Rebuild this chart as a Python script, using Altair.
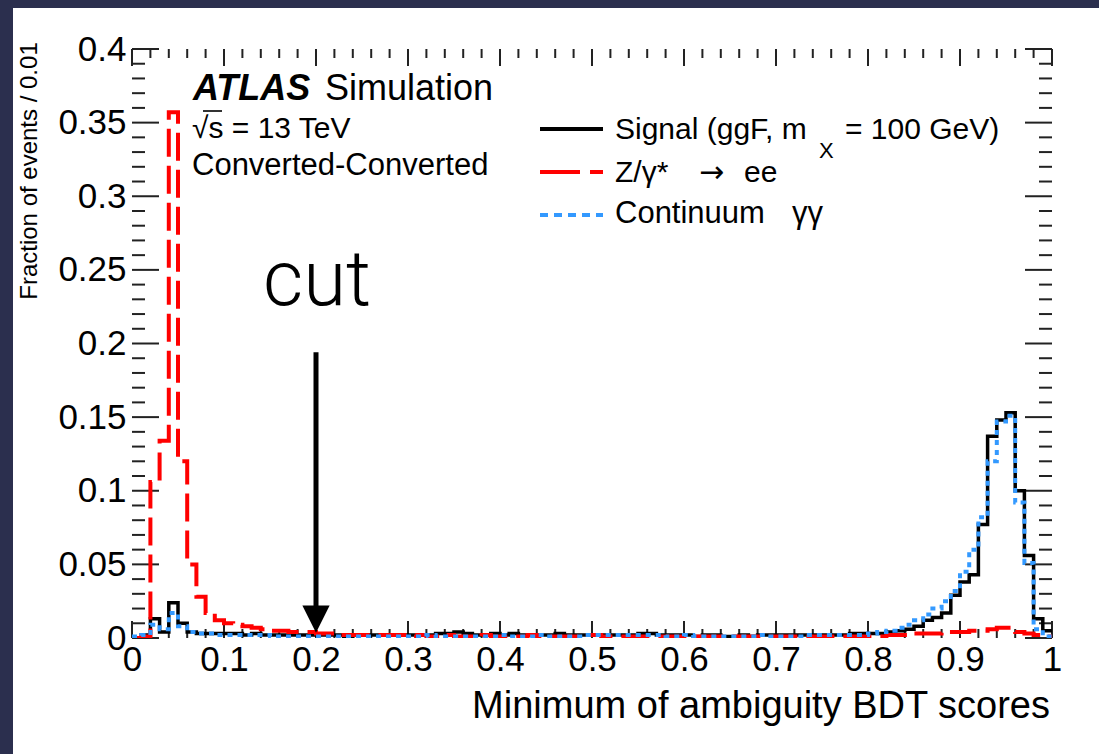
import altair as alt
import pandas as pd

# ---------------- data ----------------
bin_edges = [round(i * 0.01, 2) for i in range(101)]

signal = [
    0.000, 0.002, 0.013, 0.004, 0.024, 0.010, 0.004, 0.003, 0.003, 0.003,
    0.003, 0.003, 0.002, 0.003, 0.002, 0.002, 0.002, 0.002, 0.002, 0.002,
    0.002, 0.002, 0.002, 0.001, 0.002, 0.002, 0.002, 0.002, 0.002, 0.002,
    0.002, 0.002, 0.002, 0.003, 0.003, 0.004, 0.003, 0.002, 0.002, 0.003,
    0.002, 0.003, 0.002, 0.002, 0.002, 0.002, 0.003, 0.002, 0.002, 0.002,
    0.002, 0.002, 0.002, 0.002, 0.002, 0.003, 0.003, 0.002, 0.002, 0.002,
    0.002, 0.001, 0.002, 0.002, 0.001, 0.001, 0.002, 0.001, 0.002, 0.002,
    0.002, 0.002, 0.002, 0.002, 0.002, 0.002, 0.002, 0.002, 0.003, 0.003,
    0.003, 0.003, 0.004, 0.005, 0.006, 0.008, 0.012, 0.014, 0.017, 0.029,
    0.038, 0.043, 0.077, 0.137, 0.148, 0.153, 0.100, 0.056, 0.013, 0.005,
]

zee = [
    0.000, 0.001, 0.106, 0.134, 0.357, 0.120, 0.050, 0.028, 0.017, 0.012,
    0.010, 0.009, 0.008, 0.007, 0.006, 0.005, 0.005, 0.004, 0.004, 0.004,
    0.003, 0.003, 0.002, 0.002, 0.002, 0.002, 0.002, 0.002, 0.002, 0.002,
    0.001, 0.002, 0.001, 0.001, 0.002, 0.001, 0.001, 0.001, 0.002, 0.001,
    0.001, 0.001, 0.001, 0.002, 0.001, 0.001, 0.001, 0.001, 0.001, 0.002,
    0.002, 0.001, 0.001, 0.001, 0.001, 0.001, 0.001, 0.001, 0.001, 0.001,
    0.001, 0.001, 0.001, 0.001, 0.001, 0.001, 0.001, 0.001, 0.001, 0.001,
    0.001, 0.001, 0.001, 0.001, 0.001, 0.001, 0.001, 0.001, 0.001, 0.001,
    0.001, 0.001, 0.002, 0.002, 0.002, 0.003, 0.003, 0.003, 0.004, 0.004,
    0.004, 0.005, 0.005, 0.006, 0.007, 0.007, 0.004, 0.003, 0.002, 0.001,
]

continuum = [
    0.001, 0.002, 0.009, 0.006, 0.017, 0.008, 0.004, 0.003, 0.003, 0.002,
    0.002, 0.002, 0.002, 0.002, 0.002, 0.001, 0.001, 0.001, 0.001, 0.001,
    0.001, 0.001, 0.001, 0.001, 0.001, 0.001, 0.001, 0.001, 0.001, 0.001,
    0.001, 0.001, 0.002, 0.001, 0.001, 0.001, 0.001, 0.001, 0.001, 0.001,
    0.002, 0.001, 0.001, 0.001, 0.002, 0.001, 0.001, 0.001, 0.001, 0.002,
    0.002, 0.002, 0.002, 0.002, 0.002, 0.002, 0.002, 0.002, 0.001, 0.001,
    0.002, 0.001, 0.001, 0.001, 0.001, 0.001, 0.001, 0.001, 0.002, 0.001,
    0.001, 0.001, 0.001, 0.002, 0.002, 0.002, 0.002, 0.002, 0.002, 0.002,
    0.003, 0.004, 0.005, 0.007, 0.009, 0.012, 0.016, 0.020, 0.025, 0.032,
    0.045, 0.060, 0.082, 0.120, 0.147, 0.151, 0.092, 0.051, 0.006, 0.001,
]

y_major = [0, 0.05, 0.1, 0.15, 0.2, 0.25, 0.3, 0.35, 0.4]
x_major = [0, 0.1, 0.2, 0.3, 0.4, 0.5, 0.6, 0.7, 0.8, 0.9, 1.0]
y_minor = [round(i * 0.01, 2) for i in range(41) if i % 5]
x_minor = [round(i * 0.02, 2) for i in range(51) if i % 5]

cut_x = [0.2]
arrow_top = [0.194]
arrow_bottom = [0.02]
arrow_head_y = [0.0128]

# ---------------- layout ----------------
W, H = 920, 589
PAD_L, PAD_T = 132, 49
FONT = "Liberation Sans"
BG = "#2b2f4e"

xscale = alt.Scale(domain=[0, 1], nice=False, zero=False)
yscale = alt.Scale(domain=[0, 0.4], nice=False, zero=False)

xaxis = alt.Axis(values=x_major, labelExpr="datum.value == 0 ? '0' : datum.value == 1 ? '1' : format(datum.value, '.1f')",
                 ticks=False, domain=False, grid=False, title=None, labelFont=FONT, labelFontSize=35,
                 labelColor="black", labelPadding=4, labelFlush=False, labelOverlap=False, labelBound=False,
                 zindex=1)
yaxis = alt.Axis(values=y_major, labelExpr="datum.value == 0 ? '0' : format(datum.value, '.2~f')",
                 ticks=False, domain=False, grid=False, title=None, labelFont=FONT, labelFontSize=35,
                 labelColor="black", labelPadding=6, labelFlush=False, labelOverlap=False, labelBound=False,
                 zindex=1)

X = alt.X("x:Q", scale=xscale, axis=xaxis)
Y = alt.Y("y:Q", scale=yscale, axis=yaxis)

one = pd.DataFrame({"a": [0]})

panel = alt.Chart(one).mark_rect(color="white").encode(
    x=alt.value(13 - PAD_L), x2=alt.value(1099 - PAD_L + 5),
    y=alt.value(8 - PAD_T), y2=alt.value(754 - PAD_T + 5))


def hist(values, color, width, dash=None):
    df = pd.DataFrame({"x": bin_edges, "y": values + [values[-1]]})
    kw = dict(interpolate="step-after", color=color, strokeWidth=width, clip=True)
    if dash:
        kw["strokeDash"] = dash
    return alt.Chart(df).mark_line(**kw).encode(x=X, y=Y)


h_sig = hist(signal, "black", 3.5)
h_zee = hist(zee, "#ff0000", 4, [28, 9])
h_con = hist(continuum, "#3399ff", 4, [5, 5])

# ticks (inward, on all four sides)
tick_color = "#222222"


def yticks(vals, length):
    df = pd.DataFrame({"y": vals})
    left = alt.Chart(df).mark_rule(color=tick_color, strokeWidth=2).encode(
        y=Y, x=alt.value(0), x2=alt.value(length))
    right = alt.Chart(df).mark_rule(color=tick_color, strokeWidth=2).encode(
        y=Y, x=alt.value(W), x2=alt.value(W - length))
    return [left, right]


def xticks(vals, length):
    df = pd.DataFrame({"x": vals})
    bottom = alt.Chart(df).mark_rule(color=tick_color, strokeWidth=2).encode(
        x=X, y=alt.value(H), y2=alt.value(H - length))
    top = alt.Chart(df).mark_rule(color=tick_color, strokeWidth=2).encode(
        x=X, y=alt.value(0), y2=alt.value(length))
    return [bottom, top]


tick_layers = yticks(y_major, 27) + yticks(y_minor, 13) + xticks(x_major, 17) + xticks(x_minor, 9)

# arrow marking the cut
arrow_df = pd.DataFrame({"x": cut_x, "y": arrow_top, "y2": arrow_bottom})
arrow_line = alt.Chart(arrow_df).mark_rule(color="black", strokeWidth=5).encode(
    x=X, y=Y, y2="y2:Q")
head_df = pd.DataFrame({"x": cut_x, "y": arrow_head_y})
arrow_head = alt.Chart(head_df).mark_point(shape="M-1,-1L1,-1L0,1Z", filled=True, size=740,
                                            color="black", opacity=1).encode(x=X, y=Y)


def txt(s, x, y, size, **kw):
    return alt.Chart(one).mark_text(text=s, font=kw.pop("font", FONT), fontSize=size, align=kw.pop("align", "left"),
                                    baseline=kw.pop("baseline", "alphabetic"), color="black", **kw).encode(
        x=alt.value(x - PAD_L), y=alt.value(y - PAD_T))


texts = [
    txt("cut", 317, 305, 78, align="center", font="Roboto", fontWeight=300),
    txt("ATLAS", 193, 100, 36, fontWeight="bold", fontStyle="italic"),
    txt("Simulation", 325, 100, 36),
    txt("√s = 13 TeV", 192, 138, 30),
    txt("Converted-Converted", 192, 175, 31),
    # legend
    txt("Signal (ggF, m", 615, 139, 30),
    txt("X", 819, 158, 22),
    txt("= 100 GeV)", 845, 139, 30),
    txt("Z/γ*", 615, 182, 30),
    txt("→", 699, 182, 30, font="DejaVu Sans"),
    txt("ee", 744, 182, 30),
    txt("Continuum", 615, 223, 31),
    txt("γγ", 792, 223, 31),
    # axis titles
    txt("Minimum of ambiguity BDT scores", 1050, 718, 38, align="right"),
    txt("Fraction of events / 0.01", 30, 171, 24, align="center", baseline="middle", angle=270),
]

# overline of the square root
sqrt_bar = alt.Chart(one).mark_rule(color="black", strokeWidth=1.6).encode(
    x=alt.value(203 - PAD_L), x2=alt.value(222 - PAD_L), y=alt.value(111 - PAD_T))

legend_lines = [
    alt.Chart(one).mark_rule(color="black", strokeWidth=4).encode(
        x=alt.value(540 - PAD_L), x2=alt.value(603 - PAD_L), y=alt.value(129 - PAD_T)),
    alt.Chart(one).mark_rule(color="#ff0000", strokeWidth=4, strokeDash=[40, 10]).encode(
        x=alt.value(540 - PAD_L), x2=alt.value(603 - PAD_L), y=alt.value(172 - PAD_T)),
    alt.Chart(one).mark_rule(color="#3399ff", strokeWidth=4, strokeDash=[8, 6]).encode(
        x=alt.value(540 - PAD_L), x2=alt.value(603 - PAD_L), y=alt.value(215 - PAD_T)),
]

chart = alt.layer(
    panel, *tick_layers, h_sig, h_zee, h_con, arrow_line, arrow_head, *legend_lines, sqrt_bar, *texts
).properties(
    width=W, height=H,
    padding={"left": PAD_L, "top": PAD_T, "right": 1099 - PAD_L - W, "bottom": 754 - PAD_T - H},
    autosize=alt.AutoSizeParams(type="none"),
    background=BG,
).configure_view(stroke="black", strokeWidth=2)

chart.save("out.html", embed_options={"renderer": "svg", "actions": False})
